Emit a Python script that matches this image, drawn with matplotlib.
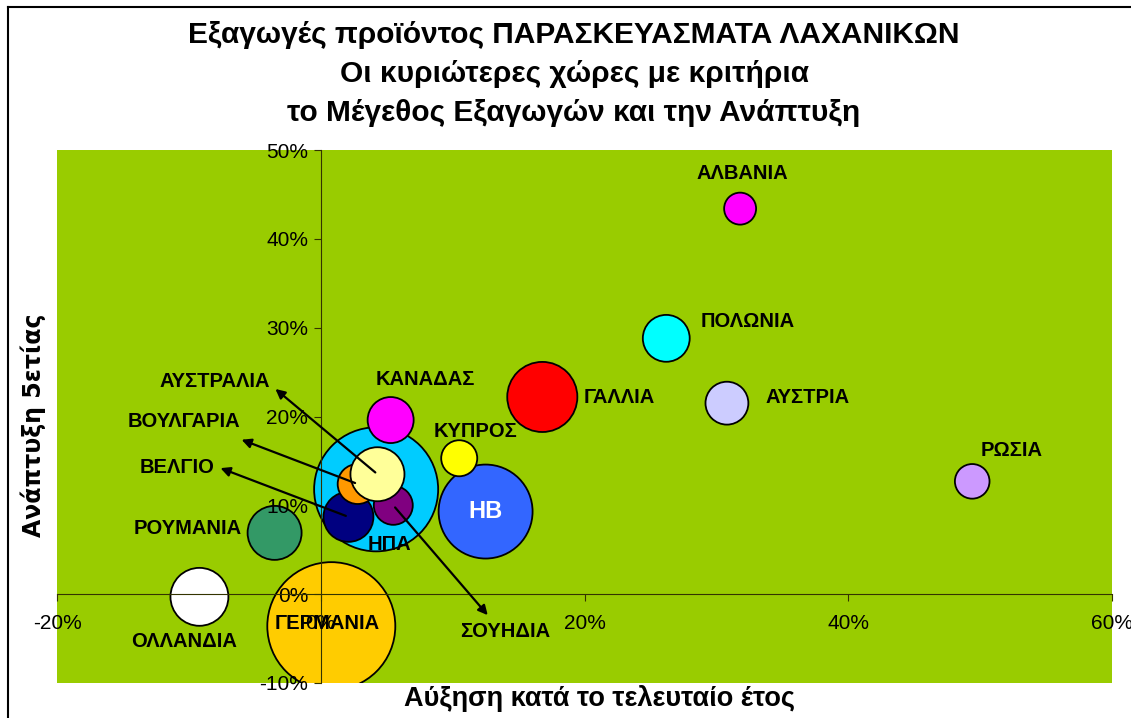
import numpy as np
import matplotlib
matplotlib.use("Agg")
import matplotlib.pyplot as plt
from matplotlib.lines import Line2D
from matplotlib.ticker import FuncFormatter

plt.rcParams['font.family'] = ['Liberation Sans', 'DejaVu Sans']

# data: growth last year (%), 5-year growth (%), export size (relative)
countries = ["ΓΕΡΜΑΝΙΑ", "ΗΠΑ", "ΗΒ", "ΓΑΛΛΙΑ", "ΟΛΛΑΝΔΙΑ", "ΡΟΥΜΑΝΙΑ",
             "ΒΕΛΓΙΟ", "ΣΟΥΗΔΙΑ", "ΒΟΥΛΓΑΡΙΑ", "ΑΥΣΤΡΑΛΙΑ", "ΠΟΛΩΝΙΑ",
             "ΚΑΝΑΔΑΣ", "ΑΥΣΤΡΙΑ", "ΚΥΠΡΟΣ", "ΡΩΣΙΑ", "ΑΛΒΑΝΙΑ"]
growth_year = [0.8, 4.2, 12.5, 16.8, -9.2, -3.5,
               2.1, 5.5, 2.8, 4.3, 26.2,
               5.3, 30.8, 10.5, 49.4, 31.8]
growth_5y = [-3.6, 11.8, 9.3, 22.2, -0.3, 6.9,
             8.7, 10.0, 12.4, 13.5, 28.8,
             19.6, 21.5, 15.3, 12.7, 43.4]
exports = [4100, 3850, 2210, 1230, 840, 730,
           625, 380, 400, 730, 550,
           530, 460, 325, 300, 256]
colors = ["#FFCC00", "#00CCFF", "#3366FF", "#FF0000", "#FFFFFF", "#339966",
          "#000080", "#800080", "#FF9900", "#FFFF99", "#00FFFF",
          "#FF00FF", "#CCCCFF", "#FFFF00", "#CC99FF", "#FF00FF"]

# label positions (data coords)
label_pos = {
    "ΓΕΡΜΑΝΙΑ": (0.5, -3.3), "ΗΠΑ": (5.2, 5.6), "ΓΑΛΛΙΑ": (22.6, 22.1),
    "ΟΛΛΑΝΔΙΑ": (-10.4, -5.3), "ΡΟΥΜΑΝΙΑ": (-10.1, 7.4), "ΒΕΛΓΙΟ": (-10.9, 14.3),
    "ΣΟΥΗΔΙΑ": (14.0, -4.2), "ΒΟΥΛΓΑΡΙΑ": (-10.4, 19.4), "ΑΥΣΤΡΑΛΙΑ": (-8.0, 23.9),
    "ΠΟΛΩΝΙΑ": (32.4, 30.7), "ΚΑΝΑΔΑΣ": (7.9, 24.2), "ΑΥΣΤΡΙΑ": (36.9, 22.1),
    "ΚΥΠΡΟΣ": (11.7, 18.3), "ΡΩΣΙΑ": (52.4, 16.2), "ΑΛΒΑΝΙΑ": (32.0, 47.3),
}
arrow_heads = {
    "ΑΥΣΤΡΑΛΙΑ": (-3.6, 23.3),
    "ΒΟΥΛΓΑΡΙΑ": (-6.2, 17.5),
    "ΒΕΛΓΙΟ": (-7.8, 14.3),
    "ΣΟΥΗΔΙΑ": (12.8, -2.6),
}

W, H, DPI = 1131, 718, 100
fig = plt.figure(figsize=(W / DPI, H / DPI), dpi=DPI)
fig.patch.set_facecolor("white")

ax = fig.add_axes([57 / W, 1 - 683 / H, 1055 / W, 533 / H])
ax.set_facecolor("#99CC00")
ax.set_xlim(-20, 60)
ax.set_ylim(-10, 50)

# bubble sizes: area proportional to exports, biggest radius 64 px
r_max = 64
radii = r_max * np.sqrt(np.array(exports) / max(exports))
sizes = (2 * radii * 72 / DPI) ** 2
ax.scatter(growth_year, growth_5y, s=sizes, c=colors, edgecolors="black",
           linewidths=1.3, zorder=1)

for name, (tx, ty) in label_pos.items():
    ax.text(tx, ty, name, ha="center", va="center", fontsize=14.5,
            fontweight="bold", zorder=6)

i = countries.index("ΗΒ")
ax.text(growth_year[i], growth_5y[i], "ΗΒ", ha="center", va="center",
        fontsize=17, fontweight="bold", color="white", zorder=6)

for name, head in arrow_heads.items():
    k = countries.index(name)
    ax.annotate("", xy=head, xytext=(growth_year[k], growth_5y[k]),
                arrowprops=dict(arrowstyle="-|>", color="black", lw=1.6,
                                mutation_scale=14), zorder=5)

# axes crossing at zero
for side in ["top", "right"]:
    ax.spines[side].set_visible(False)
ax.spines["left"].set_position(("data", 0))
ax.spines["bottom"].set_position(("data", 0))
ax.spines["left"].set_color("#333300")
ax.spines["bottom"].set_color("#333300")
ax.set_xticks([-20, 0, 20, 40, 60])
ax.set_yticks([-10, 0, 10, 20, 30, 40, 50])
pct = FuncFormatter(lambda v, p: "%d%%" % v)
ax.xaxis.set_major_formatter(pct)
ax.yaxis.set_major_formatter(pct)
ax.tick_params(axis="both", labelsize=15, direction="out", length=5,
               color="#333300")
ax.tick_params(axis="x", pad=9)
ax.tick_params(axis="y", pad=4)

ax.set_xlabel("Αύξηση κατά το τελευταίο έτος", fontsize=19.5,
              fontweight="bold", va="center")
ax.xaxis.set_label_coords(543 / 1055, -15 / 533)
fig.text(33 / W, 1 - 425 / H, "Ανάπτυξη 5ετίας", rotation=90, ha="center",
         va="center", fontsize=17, fontweight="bold", family="DejaVu Sans")

title = ["Εξαγωγές προϊόντος ΠΑΡΑΣΚΕΥΑΣΜΑΤΑ ΛΑΧΑΝΙΚΩΝ",
         "Οι κυριώτερες χώρες με κριτήρια",
         "το Μέγεθος Εξαγωγών και την Ανάπτυξη"]
for line, yp in zip(title, [35, 74, 113]):
    fig.text(574 / W, 1 - yp / H, line, ha="center", va="center",
             fontsize=21.5, fontweight="bold")

# chart border (top and left visible)
fig.add_artist(Line2D([8 / W, 8 / W], [0, 1 - 7 / H], color="black", lw=1.5))
fig.add_artist(Line2D([8 / W, 1], [1 - 7 / H, 1 - 7 / H], color="black", lw=1.5))

fig.savefig("out.png", dpi=DPI)
